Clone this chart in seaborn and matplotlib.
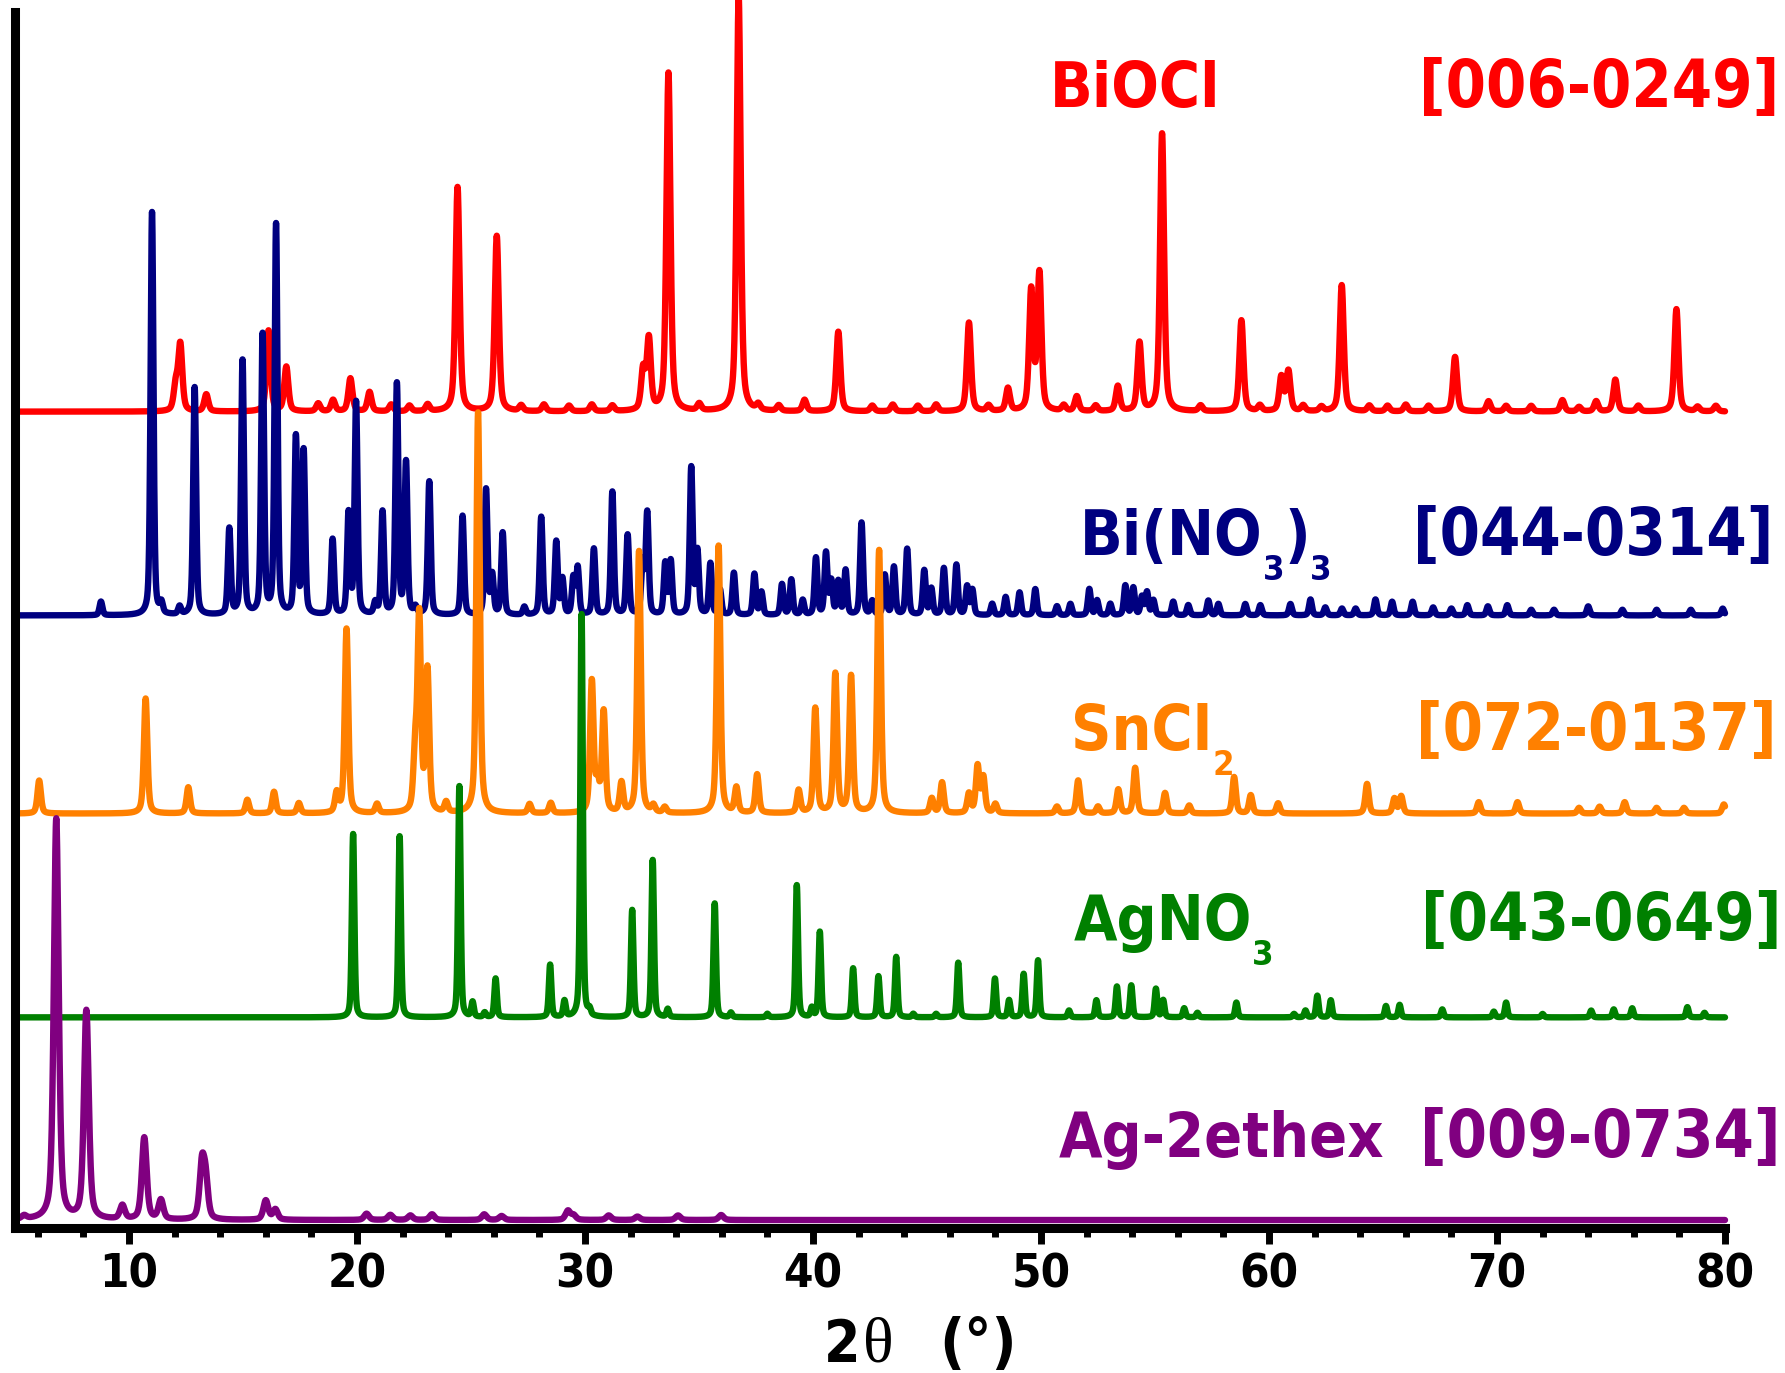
import os
import numpy as np
import pandas as pd
import matplotlib
matplotlib.use("Agg")
import matplotlib.pyplot as plt
import matplotlib.font_manager as fm
from matplotlib.font_manager import FontProperties
from matplotlib.ticker import MultipleLocator, FixedLocator
import seaborn as sns

# ---------------------------------------------------------------------------
# Reference patterns: peak positions (2-theta, deg) and relative intensities
# ---------------------------------------------------------------------------
biocl_pos = [12.05, 12.25, 13.39, 16.12, 16.90, 18.30, 18.95, 19.71, 20.55, 21.5, 22.3, 23.1,
             24.41, 26.13, 27.2, 28.2, 29.3, 30.3, 31.2, 32.55, 32.80, 33.66, 35.01, 36.74,
             37.6, 38.5, 39.63, 41.11, 42.6, 43.5, 44.6, 45.4, 46.84, 47.7, 48.55, 49.57,
             49.93, 51.0, 51.57, 52.4, 53.37, 54.32, 55.31, 57.0, 58.79, 59.6, 60.54, 60.85,
             61.5, 62.3, 63.19, 64.4, 65.2, 66.0, 67.0, 68.16, 69.63, 70.4, 71.5, 72.87,
             73.6, 74.35, 75.19, 76.2, 77.87, 78.8, 79.6]
biocl_int = [22, 58, 15, 71, 39, 7, 10, 29, 17, 6, 5, 6,
             197, 154, 5, 6, 5, 6, 5, 35, 62, 297, 6, 365,
             5, 5, 10, 70, 5, 6, 5, 6, 78, 5, 20, 105,
             120, 5, 13, 5, 22, 60, 244, 5, 80, 5, 30, 35,
             5, 4, 111, 5, 5, 6, 5, 48, 9, 5, 5, 10,
             4, 9, 28, 5, 90, 4, 5]

binitrate_pos = [8.77, 11.01, 11.42, 12.22, 12.88, 14.40, 14.98, 15.86, 16.45, 17.32, 17.66,
                 18.93, 19.63, 19.96, 20.80, 21.12, 21.75, 22.15, 22.56, 23.17, 24.63, 25.66,
                 25.93, 26.39, 27.34, 28.08, 28.74, 29.01, 29.49, 29.68, 30.39, 31.20, 31.87,
                 32.53, 32.73, 33.52, 33.76, 34.66, 34.93, 35.50, 35.92, 36.53, 37.43, 37.74,
                 38.64, 39.05, 39.55, 40.13, 40.57, 40.80, 41.11, 41.43, 42.13, 42.60, 43.15,
                 43.55, 44.13, 44.88, 45.19, 45.74, 46.29, 46.76, 46.99, 47.86, 48.45, 49.06,
                 49.75, 50.70, 51.29, 52.12, 52.46, 53.04, 53.70, 54.05, 54.43, 54.65, 54.93,
                 55.80, 56.46, 57.34, 57.78, 58.96, 59.62, 60.94, 61.82, 62.47, 63.2, 63.8,
                 64.67, 65.40, 66.30, 67.2, 68.0, 68.7, 69.6, 70.45, 71.5, 72.5, 74.0, 75.5,
                 77.0, 78.5, 79.9]
binitrate_int = [12, 354, 9, 7, 200, 75, 223, 245, 342, 155, 143,
                 66, 88, 186, 10, 90, 202, 133, 6, 117, 87, 110,
                 34, 72, 7, 86, 64, 31, 32, 41, 58, 108, 70,
                 45, 89, 45, 47, 129, 55, 45, 22, 37, 36, 20,
                 27, 31, 13, 50, 54, 29, 29, 39, 81, 12, 35,
                 42, 58, 39, 23, 41, 44, 25, 22, 10, 16, 20,
                 23, 8, 10, 23, 13, 10, 26, 24, 16, 20, 13,
                 12, 9, 13, 10, 10, 9, 10, 14, 7, 6, 6,
                 14, 12, 12, 7, 6, 9, 8, 9, 5, 5, 8, 5,
                 5, 5, 6]

sncl2_pos = [6.06, 10.73, 12.60, 15.19, 16.36, 17.45, 19.11, 19.54, 20.88, 22.55, 22.73, 23.09,
             23.91, 25.31, 27.57, 28.50, 30.30, 30.55, 30.82, 31.60, 32.37, 33.0, 33.5, 35.86,
             36.64, 37.55, 39.37, 40.10, 40.98, 41.67, 42.90, 45.21, 45.66, 46.84, 47.22,
             47.47, 48.0, 50.7, 51.63, 52.5, 53.39, 54.13, 55.44, 56.5, 58.47, 59.2, 60.4,
             64.3, 65.5, 65.8, 69.2, 70.9, 73.6, 74.5, 75.6, 77.0, 78.2, 79.95]
sncl2_int = [29, 101, 23, 12, 19, 9, 17, 162, 8, 50, 170, 124,
             9, 352, 8, 9, 115, 25, 88, 26, 230, 6, 5, 235,
             22, 34, 20, 92, 122, 120, 231, 13, 27, 17, 41,
             31, 8, 6, 29, 6, 21, 40, 18, 7, 32, 16, 9,
             26, 13, 15, 10, 10, 5, 6, 10, 5, 5, 8]

agno3_pos = [19.83, 21.87, 24.49, 25.07, 25.6, 26.08, 28.47, 29.10, 29.85, 30.2, 32.07, 32.97,
             33.63, 35.69, 36.4, 38.0, 39.29, 39.95, 40.30, 41.76, 42.87, 43.65, 44.4, 45.4,
             46.37, 47.98, 48.60, 49.24, 49.87, 51.23, 52.43, 53.33, 53.96, 55.04, 55.36,
             56.28, 56.86, 58.57, 61.1, 61.6, 62.12, 62.71, 65.13, 65.73, 67.6, 69.86, 70.40,
             72.0, 74.13, 75.12, 75.93, 78.35, 79.10]
agno3_int = [161, 159, 203, 13, 4, 34, 46, 14, 354, 5, 94, 138,
             7, 100, 4, 3, 116, 8, 75, 43, 36, 53, 3, 3,
             48, 34, 15, 38, 50, 6, 15, 27, 28, 25, 15,
             8, 4, 13, 3, 6, 19, 15, 10, 11, 7, 5, 13,
             3, 6, 7, 8, 9, 4]

ag2ethex_pos = [5.40, 6.81, 8.13, 9.71, 10.67, 11.40, 13.20, 13.36, 16.00, 16.42, 20.42, 21.46,
                22.34, 23.29, 25.58, 26.34, 29.25, 29.5, 31.04, 32.3, 34.08, 35.97]
ag2ethex_int = [3, 352, 183, 12, 72, 17, 46, 32, 17, 9, 5.5, 4.5,
                4, 5, 5, 3.5, 8, 4, 4, 3, 4, 4.4]

# stacking offsets of each pattern (same units as intensities)
offsets = [717, 538, 364, 185, 7]

names = ["BiOCl", "Bi(NO3)3", "SnCl2", "AgNO3", "Ag-2ethex"]
pdf_cards = ["[006-0249]", "[044-0314]", "[072-0137]", "[043-0649]", "[009-0734]"]
colors = ["#FF0000", "#000080", "#FF8000", "#008000", "#800080"]

# name pieces: (text, is_subscript)
name_pieces = [
    [("BiOCl", False)],
    [("Bi(NO", False), ("3", True), (")", False), ("3", True)],
    [("SnCl", False), ("2", True)],
    [("AgNO", False), ("3", True)],
    [("Ag-2ethex", False)],
]

tick_values = [10, 20, 30, 40, 50, 60, 70, 80]
tick_labels = ["10", "20", "30", "40", "50", "60", "70", "80"]

# ---------------------------------------------------------------------------
W, H, DPI = 1785, 1373, 100


def pick_font(candidates, fallback_family, weight):
    files = fm.findSystemFonts()
    for cand in candidates:
        for f in files:
            if os.path.basename(f) == cand:
                return FontProperties(fname=f)
    return FontProperties(family=fallback_family, weight=weight)


bold_font_file = pick_font(["DejaVuSansCondensed-Bold.ttf", "LiberationSansNarrow-Bold.ttf"],
                           "DejaVu Sans", "bold")


def bold(size):
    fp = bold_font_file.copy()
    fp.set_size(size)
    if fp.get_file() is None:
        fp.set_weight("bold")
    return fp


def pattern(grid, pos, inten, fwhm, eta):
    y = np.zeros_like(grid)
    for p, h in zip(pos, inten):
        d = (grid - p) / fwhm
        y += h * (eta / (1.0 + 4.0 * d * d) + (1.0 - eta) * np.exp(-4.0 * np.log(2) * d * d))
    return y


sns.set_style("ticks")
plt.rcParams["font.family"] = ["DejaVu Sans"]

fig = plt.figure(figsize=(W / DPI, H / DPI), dpi=DPI)
ax = fig.add_axes([15 / W, (H - 1228) / H, (1725 - 15) / W, (1228 - 12) / H])

two_theta = np.round(np.arange(5.0, 80.0001, 0.01), 2)
series = [
    (biocl_pos, biocl_int, 0.21, 0.5),
    (binitrate_pos, binitrate_int, 0.15, 0.4),
    (sncl2_pos, sncl2_int, 0.18, 0.5),
    (agno3_pos, agno3_int, 0.13, 0.4),
    (ag2ethex_pos, ag2ethex_int, 0.25, 0.5),
]

for i, (pos, inten, fwhm, eta) in enumerate(series):
    df = pd.DataFrame({"two_theta": two_theta,
                       "intensity": offsets[i] + pattern(two_theta, pos, inten, fwhm, eta)})
    sns.lineplot(data=df, x="two_theta", y="intensity", color=colors[i], lw=4.6,
                 estimator=None, sort=False, legend=False, ax=ax)
    line = ax.lines[-1]
    line.set_solid_joinstyle("round")
    line.set_solid_capstyle("round")
    line.set_clip_on(False)

ax.set_xlim(5, 80)
ax.set_ylim(0, 1068)
ax.set_xlabel("")
ax.set_ylabel("")
ax.set_yticks([])
ax.xaxis.set_major_locator(FixedLocator(tick_values))
ax.set_xticklabels(tick_labels)
ax.xaxis.set_minor_locator(MultipleLocator(2))
ax.tick_params(axis="x", which="major", direction="out", length=11.5, width=5,
               color="black", labelcolor="black", pad=6)
ax.tick_params(axis="x", which="minor", direction="out", length=6.5, width=5,
               color="black")
for lab in ax.get_xticklabels():
    lab.set_fontproperties(bold(34))
    lab.set_color("black")
for side in ["top", "right"]:
    ax.spines[side].set_visible(False)
for side in ["left", "bottom"]:
    ax.spines[side].set_linewidth(6.5)
    ax.spines[side].set_color("black")
ax.patch.set_alpha(0)

renderer = fig.canvas.get_renderer()


def put_pieces(x_px, base_px, pieces, color, size):
    x = x_px
    for text, is_sub in pieces:
        fs = size * 0.55 if is_sub else size
        y = base_px + (25 if is_sub else 0)
        t = fig.text(x / W, 1 - y / H, text, fontproperties=bold(fs), color=color,
                     ha="left", va="baseline")
        x += t.get_window_extent(renderer).width


name_x = [1050, 1080, 1071, 1074, 1059]
name_base = [107, 555, 750, 940, 1157]
card_right = [1779, 1773, 1777, 1781, 1780]
for i in range(5):
    put_pieces(name_x[i], name_base[i], name_pieces[i], colors[i], 45)
    fig.text(card_right[i] / W, 1 - name_base[i] / H, pdf_cards[i], fontproperties=bold(46.5),
             color=colors[i], ha="right", va="baseline")

# axis title: 2θ (°)
x_px = 824
t = fig.text(x_px / W, 1 - 1362 / H, "2", fontproperties=bold(42), color="black",
             ha="left", va="baseline")
x_px += t.get_window_extent(renderer).width + 2
t = fig.text(x_px / W, 1 - 1362 / H, "θ", fontproperties=FontProperties(family="Liberation Serif", size=46),
             color="black", ha="left", va="baseline")
x_px += t.get_window_extent(renderer).width + 46
fig.text(x_px / W, 1 - 1362 / H, "(°)", fontproperties=bold(44), color="black",
         ha="left", va="baseline")

fig.savefig("out.png", dpi=DPI)
